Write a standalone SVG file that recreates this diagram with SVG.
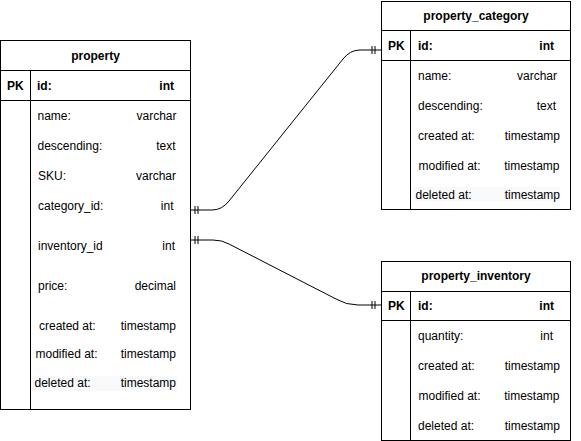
<svg xmlns="http://www.w3.org/2000/svg" width="581" height="441" viewBox="0 0 581 441">
<style>
.box{fill:#fff;stroke:#000;stroke-width:1}
.ln{stroke:#000;stroke-width:1;fill:none}
text{font-family:"Liberation Sans",Arial,sans-serif;font-size:12px;fill:#000}
.b{font-weight:bold}
.c{text-anchor:middle}
.e{text-anchor:end}
.hl{fill:#f8f9fa}
.con{stroke:#000;stroke-width:1;fill:none}
</style>
<rect width="581" height="441" fill="#fff"/>
<g id="connectors">
<path class="con" d="M190.5,210 L212,210 Q222,210 229,201 L343,59 Q350,50 360,50 L381,50"/>
<path class="con" d="M195,206 V214 M198,206 V214 M372,46 V54 M375,46 V54"/>
<path class="con" d="M190.5,240 L213,240 Q222,240 229,244 L336,299 Q346,305 358,305 L381,305"/>
<path class="con" d="M195,236 V244 M198,236 V244 M372,301 V309 M375,301 V309"/>
</g>
<g id="property">
<rect class="box" x="0.5" y="40.5" width="190" height="369"/>
<path class="ln" d="M0.5,70.5 H190.5 M0.5,100.5 H190.5 M30.5,70.5 V409.5"/>
<rect class="hl" x="33" y="376" width="144" height="15"/>
<text class="b c" x="95.5" y="60">property</text>
<text class="b" x="7" y="90">PK</text>
<text class="b" x="37" y="90">id:</text>
<text class="b e" x="174" y="90">int</text>
<text x="37.5" y="120">name:</text><text class="e" x="176.5" y="120">varchar</text>
<text x="37.5" y="150">descending:</text><text class="e" x="175.5" y="150">text</text>
<text x="38" y="180">SKU:</text><text class="e" x="176" y="180">varchar</text>
<text x="38" y="210">category_id:</text><text class="e" x="173.5" y="210">int</text>
<text x="38" y="250">inventory_id</text><text class="e" x="175" y="250">int</text>
<text x="38" y="290">price:</text><text class="e" x="176" y="290">decimal</text>
<text x="39" y="330">created at:</text><text class="e" x="176" y="330">timestamp</text>
<text x="35.5" y="358">modified at:</text><text class="e" x="176" y="358">timestamp</text>
<text x="34.5" y="387">deleted at:</text><text class="e" x="176" y="387">timestamp</text>
</g>
<g id="property_category">
<rect class="box" x="381.5" y="1.5" width="189" height="208"/>
<path class="ln" d="M381.5,30.5 H570.5 M381.5,60.5 H570.5 M410.5,30.5 V209.5"/>
<rect class="hl" x="413" y="187" width="147" height="14"/>
<text class="b c" x="476" y="20">property_category</text>
<text class="b" x="388" y="50">PK</text>
<text class="b" x="418" y="50">id:</text>
<text class="b e" x="554" y="50">int</text>
<text x="418" y="80">name:</text><text class="e" x="557" y="80">varchar</text>
<text x="418" y="110">descending:</text><text class="e" x="556" y="110">text</text>
<text x="418" y="140">created at:</text><text class="e" x="560" y="140">timestamp</text>
<text x="418.5" y="170">modified at:</text><text class="e" x="559.5" y="170">timestamp</text>
<text x="415.5" y="199">deleted at:</text><text class="e" x="560" y="199">timestamp</text>
</g>
<g id="property_inventory">
<rect class="box" x="381.5" y="261.5" width="189" height="179"/>
<path class="ln" d="M381.5,291.5 H570.5 M381.5,320.5 H570.5 M410.5,291.5 V440.5"/>
<text class="b c" x="476" y="280">property_inventory</text>
<text class="b" x="388" y="310">PK</text>
<text class="b" x="418" y="310">id:</text>
<text class="b e" x="554" y="310">int</text>
<text x="418" y="340">quantity:</text><text class="e" x="553" y="340">int</text>
<text x="418" y="370">created at:</text><text class="e" x="560" y="370">timestamp</text>
<text x="418.5" y="400">modified at:</text><text class="e" x="559.5" y="400">timestamp</text>
<text x="418" y="430">deleted at:</text><text class="e" x="560" y="430">timestamp</text>
</g>
</svg>
